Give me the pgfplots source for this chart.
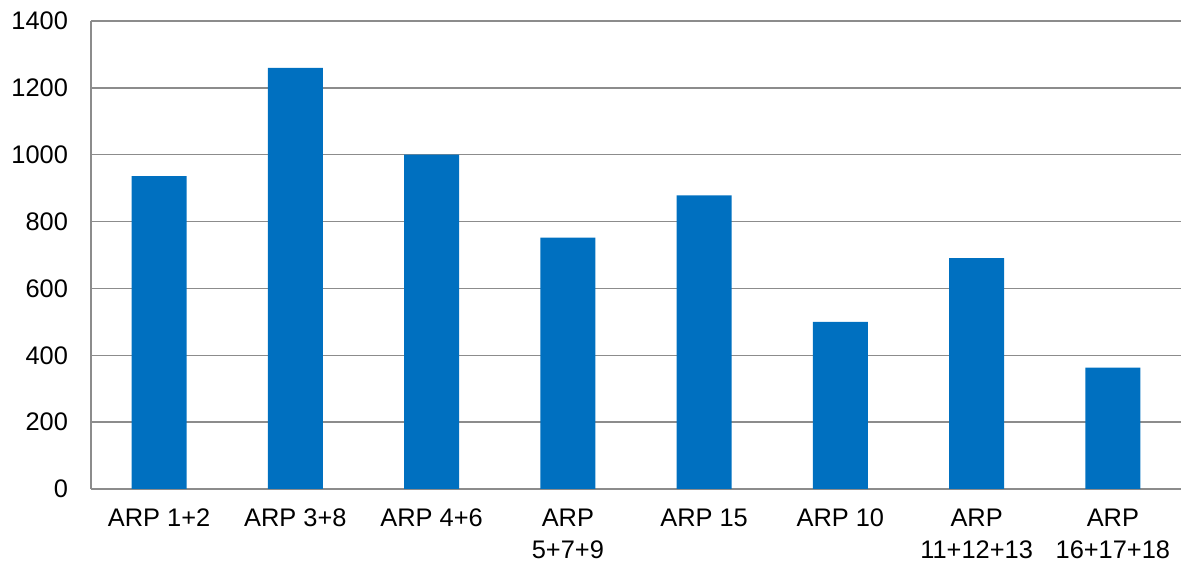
\documentclass[border=0pt]{standalone}
\usepackage{pgfplots}
\pgfplotsset{compat=1.18}
\usepackage{fontspec}
\setmainfont{Liberation Sans}
\definecolor{barblue}{HTML}{0070C0}
\definecolor{gridgray}{HTML}{8C8C8C}
\begin{document}
\begin{tikzpicture}
\useasboundingbox (-45.5pt,-36pt) rectangle (546pt,244.5pt);
\begin{axis}[
  at={(0,0)}, anchor=south west,
  scale only axis,
  width=545pt, height=234pt,
  xmin=-0.5, xmax=7.5,
  ymin=0, ymax=1400,
  ytick={0,200,...,1400},
  xtick={0,...,7},
  xticklabels={{ARP 1+2},{ARP 3+8},{ARP 4+6},{ARP\\5+7+9},{ARP 15},{ARP 10},{ARP\\11+12+13},{ARP\\16+17+18}},
  axis lines=left,
  axis line style={-, draw=gridgray, line width=0.8pt},
  ymajorgrids,
  major grid style={draw=gridgray, line width=0.75pt},
  major tick length=0pt,
  tick style={draw=none},
  ticklabel style={font=\fontsize{12.7}{15.8}\selectfont},
  yticklabel style={xshift=-8pt},
  xticklabel style={align=center, yshift=-6.5pt},
  /pgf/number format/assume math mode=true,
  /pgf/number format/1000 sep={},
  clip=false,
]
\addplot[ybar, bar width=27.5pt, fill=barblue, draw=none] coordinates {
  (0,936) (1,1260) (2,1000) (3,752) (4,878) (5,500) (6,691) (7,363)
};
\end{axis}
\end{tikzpicture}
\end{document}
